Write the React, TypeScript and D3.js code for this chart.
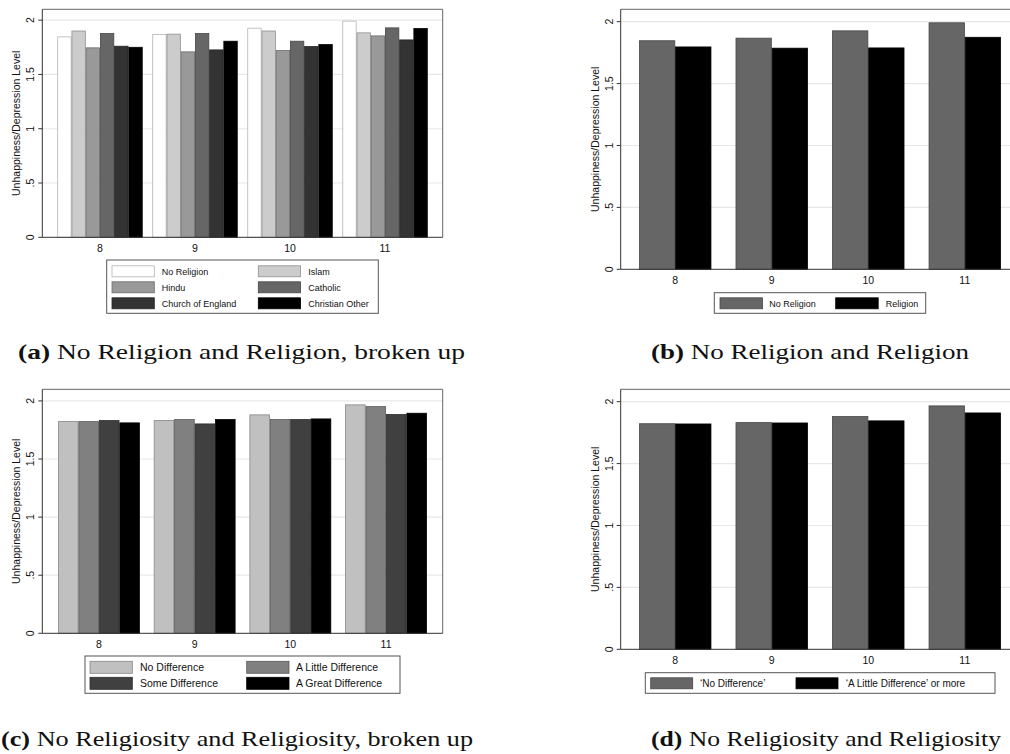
import * as React from 'react'
import * as d3 from 'd3'

// grade groups on the x axis
const grades = ['8', '9', '10', '11']
const yTicks = [0, 0.5, 1, 1.5, 2]
const yTickLabels = ['0', '.5', '1', '1.5', '2']

// (a) religion broken up
const religionNames = ['No Religion', 'Islam', 'Hindu', 'Catholic', 'Church of England', 'Christian Other']
const noReligion = [1.846, 1.867, 1.926, 1.991]
const islam = [1.9, 1.871, 1.9, 1.883]
const hindu = [1.745, 1.708, 1.72, 1.855]
const catholic = [1.877, 1.877, 1.806, 1.929]
const churchOfEngland = [1.76, 1.726, 1.757, 1.818]
const christianOther = [1.75, 1.806, 1.775, 1.923]

// (b) religion vs none
const religionBinNames = ['No Religion', 'Religion']
const religion = [1.796, 1.786, 1.788, 1.874]

// (c) religiosity broken up
const religiosityNames = ['No Difference', 'A Little Difference', 'Some Difference', 'A Great Difference']
const noDifference = [1.822, 1.831, 1.88, 1.966]
const littleDifference = [1.822, 1.84, 1.84, 1.951]
const someDifference = [1.831, 1.802, 1.84, 1.883]
const greatDifference = [1.811, 1.84, 1.845, 1.894]

// (d) religiosity vs none
const religiosityBinNames = ["\u2018No Difference\u2019", "\u2018A Little Difference\u2019 or more"]
const littleOrMore = [1.82, 1.828, 1.845, 1.909]

const SANS = '"Liberation Sans", Arial, Helvetica, sans-serif'
const SERIF = '"Liberation Serif", "Times New Roman", serif'

interface LegendSpec {
  box: [number, number, number, number]
  swatchX: number[]
  swatchW: number
  swatchH: number
  rowY: number[]
  textX: number[]
  fontSize: number
  cols: number
}

interface PanelProps {
  left: number
  right: number
  top: number
  bottom: number
  series: number[][]
  names: string[]
  colors: string[]
  paddingInner: number
  paddingOuter: number
  legend: LegendSpec
}

function outline(fill: string) {
  return d3.interpolateRgb(fill, '#000')(0.3)
}

function Panel({ left, right, top, bottom, series, names, colors, paddingInner, paddingOuter, legend }: PanelProps) {
  const x = d3.scaleBand<string>().domain(grades).range([left, right]).paddingInner(paddingInner).paddingOuter(paddingOuter)
  const sub = d3.scaleBand<number>().domain(d3.range(series.length)).range([0, x.bandwidth()]).padding(0)
  const y = d3.scaleLinear().domain([0, 2.1]).range([bottom, top])

  return (
    <g>
      {/* gridlines */}
      {yTicks.slice(1).map(t => (
        <line key={t} x1={left} x2={right} y1={y(t)} y2={y(t)} stroke="#e8e8e8" strokeWidth={1.2} />
      ))}
      {/* bars */}
      {grades.map((g, gi) => (
        <g key={g}>
          {series.map((s, si) => (
            <rect
              key={si}
              x={(x(g) as number) + (sub(si) as number) + 0.4}
              y={y(s[gi])}
              width={sub.bandwidth() - 0.8}
              height={bottom - y(s[gi])}
              fill={colors[si]}
              stroke={outline(colors[si])}
              strokeWidth={0.8}
            />
          ))}
        </g>
      ))}
      {/* frame */}
      <line x1={left} x2={right} y1={top} y2={top} stroke="#666" strokeWidth={1} />
      <line x1={right} x2={right} y1={top} y2={bottom} stroke="#666" strokeWidth={1} />
      <line x1={left} x2={left} y1={top} y2={bottom} stroke="#333" strokeWidth={1} />
      <line x1={left} x2={right} y1={bottom} y2={bottom} stroke="#333" strokeWidth={1} />
      {/* y ticks */}
      {yTicks.map((t, i) => (
        <g key={t}>
          <line x1={left - 4} x2={left} y1={y(t)} y2={y(t)} stroke="#333" strokeWidth={1} />
          <text
            transform={`translate(${left - 8},${y(t)}) rotate(-90)`}
            textAnchor="middle"
            fontFamily={SANS}
            fontSize={10.5}
            fill="#111"
          >
            {yTickLabels[i]}
          </text>
        </g>
      ))}
      <text
        transform={`translate(${left - 22},${(top + bottom) / 2}) rotate(-90)`}
        textAnchor="middle"
        fontFamily={SANS}
        fontSize={10.5}
        fill="#111"
      >
        Unhappiness/Depression Level
      </text>
      {/* x labels */}
      {grades.map(g => (
        <text
          key={g}
          x={(x(g) as number) + x.bandwidth() / 2}
          y={bottom + 15}
          textAnchor="middle"
          fontFamily={SANS}
          fontSize={10.5}
          fill="#111"
        >
          {g}
        </text>
      ))}
      {/* legend */}
      <rect
        x={legend.box[0]}
        y={legend.box[1]}
        width={legend.box[2] - legend.box[0]}
        height={legend.box[3] - legend.box[1]}
        fill="#fff"
        stroke="#555"
        strokeWidth={1}
      />
      {names.map((n, i) => {
        const col = i % legend.cols
        const row = Math.floor(i / legend.cols)
        const cy = legend.rowY[row]
        return (
          <g key={n}>
            <rect
              x={legend.swatchX[col]}
              y={cy - legend.swatchH / 2}
              width={legend.swatchW}
              height={legend.swatchH}
              fill={colors[i]}
              stroke={outline(colors[i])}
              strokeWidth={0.8}
            />
            <text
              x={legend.textX[col]}
              y={cy + legend.fontSize * 0.36}
              fontFamily={SANS}
              fontSize={legend.fontSize}
              fill="#111"
            >
              {n}
            </text>
          </g>
        )
      })}
    </g>
  )
}

function Caption({ x, y, label, text, length }: { x: number; y: number; label: string; text: string; length: number }) {
  return (
    <text
      x={x}
      y={y}
      fontFamily={SERIF}
      fontSize={21}
      fill="#111"
      textLength={length}
      lengthAdjust="spacingAndGlyphs"
    >
      <tspan fontWeight="bold">({label})</tspan> {text}
    </text>
  )
}

export default function App() {
  return (
    <svg
      width={1010}
      height={754}
      viewBox="0 0 1010 754"
      style={{ position: 'absolute', left: 0, top: 0, background: '#fff' }}
    >
      <rect width={1010} height={754} fill="#fff" />
      <Panel
        left={42.3}
        right={442.7}
        top={9.3}
        bottom={237.3}
        series={[noReligion, islam, hindu, catholic, churchOfEngland, christianOther]}
        names={religionNames}
        colors={['#ffffff', '#cccccc', '#999999', '#666666', '#333333', '#000000']}
        paddingInner={0.102}
        paddingOuter={0.158}
        legend={{
          box: [106.7, 260, 378.3, 313.3],
          swatchX: [112, 258.3],
          swatchW: 42.3,
          swatchH: 11,
          rowY: [271.3, 287.3, 303.3],
          textX: [161.7, 308.3],
          fontSize: 9,
          cols: 2,
        }}
      />
      <Panel
        left={620.7}
        right={1019.3}
        top={9.3}
        bottom={269.3}
        series={[noReligion, religion]}
        names={religionBinNames}
        colors={['#666666', '#000000']}
        paddingInner={0.251}
        paddingOuter={0.19}
        legend={{
          box: [714.3, 292.7, 925.7, 313.3],
          swatchX: [720, 835.7],
          swatchW: 42.5,
          swatchH: 11,
          rowY: [303.3],
          textX: [769.3, 885.7],
          fontSize: 9,
          cols: 2,
        }}
      />
      <Panel
        left={42.3}
        right={442.7}
        top={389.3}
        bottom={633.3}
        series={[noDifference, littleDifference, someDifference, greatDifference]}
        names={religiosityNames}
        colors={['#c0c0c0', '#808080', '#404040', '#000000']}
        paddingInner={0.146}
        paddingOuter={0.165}
        legend={{
          box: [85, 656, 400, 693.3],
          swatchX: [90, 246.7],
          swatchW: 42.3,
          swatchH: 12,
          rowY: [667.3, 683.3],
          textX: [140, 296],
          fontSize: 10.5,
          cols: 2,
        }}
      />
      <Panel
        left={620.7}
        right={1019.3}
        top={389.3}
        bottom={649.3}
        series={[noDifference, littleOrMore]}
        names={religiosityBinNames}
        colors={['#666666', '#000000']}
        paddingInner={0.251}
        paddingOuter={0.19}
        legend={{
          box: [645.3, 672.7, 995, 693.3],
          swatchX: [650.7, 796],
          swatchW: 42,
          swatchH: 11,
          rowY: [683.3],
          textX: [700, 845.7],
          fontSize: 10,
          cols: 2,
        }}
      />
      <Caption x={18} y={359} label="a" text="No Religion and Religion, broken up" length={447} />
      <Caption x={651} y={359} label="b" text="No Religion and Religion" length={318} />
      <Caption x={1} y={746} label="c" text="No Religiosity and Religiosity, broken up" length={472} />
      <Caption x={651} y={746} label="d" text="No Religiosity and Religiosity" length={350} />
    </svg>
  )
}
